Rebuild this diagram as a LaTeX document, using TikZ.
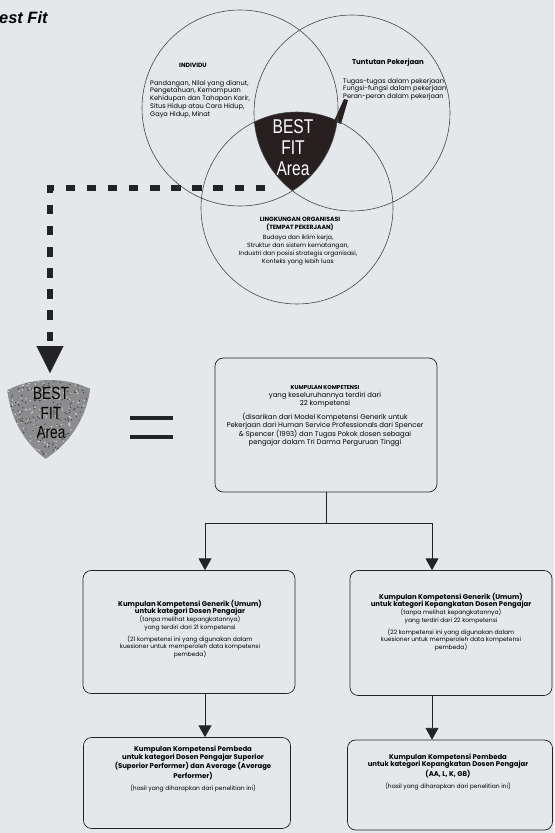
\documentclass[tikz,border=0pt]{standalone}
\usepackage{fontspec}
\setmainfont{Poppins}
\newfontfamily\condfont[FakeStretch=0.78]{Liberation Sans}
\newfontfamily\headfont{Liberation Sans}
\usetikzlibrary{arrows.meta}
\definecolor{paper}{RGB}{229,232,235}
\definecolor{ink}{RGB}{35,35,38}
\definecolor{darkarea}{RGB}{40,31,33}
\definecolor{greyarea}{RGB}{140,140,142}
\tikzstyle{ring}=[draw=ink!85,line width=0.5pt]
\tikzstyle{ctext}=[inner sep=0pt,align=left,font=\fontsize{5.6}{6.6}\selectfont]
\tikzstyle{chead}=[inner sep=0pt,align=center,font=\fontsize{5.2}{6.6}\selectfont\bfseries]
\tikzstyle{box}=[draw=ink,line width=0.6pt,rounded corners=7pt]
\tikzstyle{btext}=[inner sep=0pt,align=center,font=\fontsize{5.1}{6.5}\selectfont]
\tikzstyle{line}=[draw=ink,line width=0.6pt]
\tikzstyle{arrow}=[line,-{Triangle[width=11pt,length=10pt]}]
\tikzstyle{dashline}=[draw=ink,line width=4.3pt,dash pattern=on 8pt off 10pt,-{Triangle[width=23pt,length=23pt,line width=0.1pt]}]
\tikzstyle{bigtext}=[inner sep=0pt,align=center]
\newcommand{\bestfitclip}{%
  \clip (240,108) circle (98);
  \clip (352,113) circle (98);
  \clip (297,208) circle (96);}
\newcommand{\hb}[1]{{\fontsize{5.9}{6.5}\selectfont\bfseries #1}}

\begin{document}
\begin{tikzpicture}[x=0.03cm,y=-0.03cm]
    \useasboundingbox (0,0) rectangle (554,833);
    \fill[paper] (0,0) rectangle (554,833);

    \node[anchor=base west,inner sep=0pt,font=\headfont\bfseries\itshape\fontsize{14}{16}\selectfont] (title) at (-1,23) {est Fit};

    % the three circles and their meeting area
    \begin{scope}
        \bestfitclip
        \fill[darkarea] (240,100) rectangle (360,200);
    \end{scope}
    \fill[darkarea] (334,121) -- (344,99) -- (348,100) -- (341,124) -- cycle;
    \draw[ring] (240,108) circle (98);
    \draw[ring] (352,113) circle (98);
    \draw[ring] (297,208) circle (96);

    \node[chead] (indiv) at (193,65) {INDIVIDU};
    \node[ctext,anchor=north west] (indiv-t) at (150,80) {Pandangan, Nilai yang dianut,\\ Pengetahuan, Kemampuan\\ Kehidupan dan Tahapan Karir,\\ Situs Hidup atau Cara Hidup,\\ Gaya Hidup, Minat};
    \node[chead,font=\fontsize{6}{6.6}\selectfont\bfseries] (tuntut) at (388,63) {Tuntutan Pekerjaan};
    \node[ctext,anchor=north west] (tuntut-t) at (343,78) {Tugas-tugas dalam pekerjaan\\ Fungsi-fungsi dalam pekerjaan\\ Peran-peran dalam pekerjaan};
    \node[chead] (lingk) at (300,224) {LINGKUNGAN ORGANISASI\\ (TEMPAT PEKERJAAN)};
    \node[ctext,align=center,font=\fontsize{5.2}{6.7}\selectfont] (lingk-t) at (298,250) {Budaya dan iklim kerja,\\ Struktur dan sistem kematangan,\\ Industri dan posisi strategis organisasi,\\ Konteks yang lebih luas};

    \node[bigtext,text=white,font=\condfont\fontsize{17}{18}\selectfont] (area) at (293,148) {BEST\\ FIT\\ Area};

    % the area taken out
    \begin{scope}[shift={(-247,268)}]
        \bestfitclip
        \fill[greyarea] (240,100) rectangle (360,200);
        \pgfmathsetseed{7}
        \foreach \i in {1,...,220}
            \fill[white!70!greyarea] (253+88*rnd,112+80*rnd) circle (0.7);
        \foreach \i in {1,...,220}
            \fill[black!55!greyarea] (253+88*rnd,112+80*rnd) circle (0.7);
    \end{scope}
    \node[bigtext,text=black,font=\condfont\fontsize{15}{16.5}\selectfont] (shield) at (51,413) {BEST\\ FIT\\ Area};

    \coordinate (from) at (265,188);
    \coordinate (bend) at (50,188);
    \coordinate (into) at (50,373);
    \draw[dashline] (from) -- (bend) -- (into);

    \draw[draw=ink,line width=3.4pt] (130,418) -- (173,418);
    \draw[draw=ink,line width=3.4pt] (130,437) -- (173,437);

    % the boxes
    \node[box,minimum width=6.66cm,minimum height=4.02cm] (kk) at (326,425) {};
    \node[btext,font=\fontsize{5.9}{6.8}\selectfont] (kk-t) at (325,416) {{\fontsize{4.8}{6.8}\selectfont\bfseries KUMPULAN KOMPETENSI}\\ yang keseluruhannya terdiri dari\\ 22 kompetensi\\[4pt] (disarikan dari Model Kompetensi Generik untuk\\ Pekerjaan dari Human Service Professionals dari Spencer\\ \& Spencer (1993) dan Tugas Pokok dosen sebagai\\ pengajar dalam Tri Darma Perguruan Tinggi};

    \node[box,minimum width=6.36cm,minimum height=3.69cm] (kgl) at (189,632) {};
    \node[btext] (kgl-t) at (190,629) {\hb{Kumpulan Kompetensi Generik (Umum)}\\ \hb{untuk kategori Dosen Pengajar}\\ (tanpa melihat kepangkatannya)\\ yang terdiri dari 21 kompetensi\\[4pt] (21 kompetensi ini yang digunakan dalam\\ kuesioner untuk memperoleh data kompetensi\\ pembeda)};

    \node[box,minimum width=6.06cm,minimum height=3.75cm] (kgr) at (451,633) {};
    \node[btext] (kgr-t) at (451,622) {\hb{Kumpulan Kompetensi Generik (Umum)}\\ \hb{untuk kategori Kepangkatan Dosen Pengajar}\\ (tanpa melihat kepangkatannya)\\ yang terdiri dari 22 kompetensi\\[4pt] (22 kompetensi ini yang digunakan dalam\\ kuesioner untuk memperoleh data kompetensi\\ pembeda)};

    \node[box,minimum width=6.21cm,minimum height=2.73cm] (kpl) at (187,783) {};
    \node[btext] (kpl-t) at (193,769) {\hb{Kumpulan Kompetensi Pembeda}\\ \hb{untuk kategori Dosen Pengajar Superior}\\ \hb{(Superior Performer) dan Average (Average}\\ \hb{Performer)}\\[4pt] (hasil yang diharapkan dari penelitian ini)};

    \node[box,minimum width=6.15cm,minimum height=2.7cm] (kpr) at (450,785) {};
    \node[btext] (kpr-t) at (448,772) {\hb{Kumpulan Kompetensi Pembeda}\\ \hb{untuk kategori Kepangkatan Dosen Pengajar}\\ \hb{(AA, L, K, GB)}\\[4pt] (hasil yang diharapkan dari penelitian ini)};

    % connectors
    \coordinate (fork) at (326,523);
    \coordinate (forkl) at (205,523);
    \coordinate (forkr) at (432,523);
    \draw[line] (kk.south) -- (fork);
    \draw[arrow] (fork) -- (forkl) -- (forkl |- kgl.north);
    \draw[arrow] (fork) -- (forkr) -- (forkr |- kgr.north);
    \draw[arrow] (kgl.south -| forkl) -- (kpl.north -| forkl);
    \draw[arrow] (kgr.south -| forkr) -- (kpr.north -| forkr);
\end{tikzpicture}
\end{document}
